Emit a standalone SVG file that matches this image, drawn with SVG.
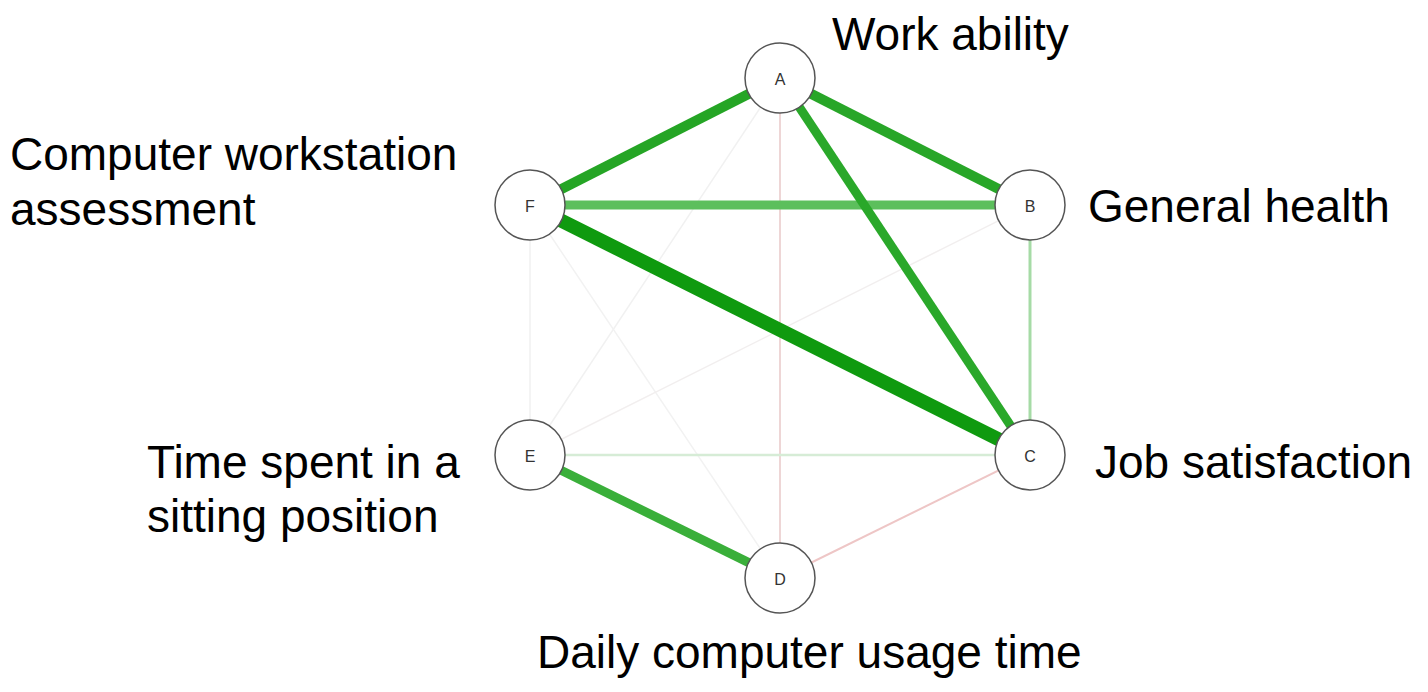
<svg xmlns="http://www.w3.org/2000/svg" width="1428" height="692" viewBox="0 0 1428 692">
<style>
.node circle{fill:#fff;stroke:#555;stroke-width:1.5}
.node text{font-family:"Liberation Sans",Arial,sans-serif;font-size:16px;fill:#333;text-anchor:middle;dominant-baseline:central}
.lbl{font-family:"Liberation Sans",Arial,sans-serif;font-size:46px;fill:#000}
.edges line{stroke-linecap:butt}
</style>
<rect width="1428" height="692" fill="#fff"/>
<g id="connectors" class="edges">
<line id="A-E" x1="780" y1="78" x2="530" y2="455" stroke="#f1f1f1" stroke-width="1.5"/>
<line id="F-E" x1="530" y1="205" x2="530" y2="455" stroke="#f1f1f1" stroke-width="1.5"/>
<line id="F-D" x1="530" y1="205" x2="780" y2="578" stroke="#f2f2f2" stroke-width="1.5"/>
<line id="E-B" x1="530" y1="455" x2="1030" y2="205" stroke="#f2efef" stroke-width="1.5"/>
<line id="A-D" x1="780" y1="78" x2="780" y2="578" stroke="#eed6d6" stroke-width="2"/>
<line id="E-C" x1="530" y1="455" x2="1030" y2="455" stroke="#d6ecd6" stroke-width="2.5"/>
<line id="D-C" x1="780" y1="578" x2="1030" y2="455" stroke="#eec6c6" stroke-width="2"/>
<line id="B-C" x1="1030" y1="205" x2="1030" y2="455" stroke="#a6dba6" stroke-width="3"/>
<line id="F-B" x1="530" y1="205" x2="1030" y2="205" stroke="#5cbf5c" stroke-width="9"/>
<line id="E-D" x1="530" y1="455" x2="780" y2="578" stroke="#3aaf3a" stroke-width="9"/>
<line id="A-B" x1="780" y1="78" x2="1030" y2="205" stroke="#28a628" stroke-width="10"/>
<line id="A-F" x1="780" y1="78" x2="530" y2="205" stroke="#25a525" stroke-width="10"/>
<line id="A-C" x1="780" y1="78" x2="1030" y2="455" stroke="#2aa82a" stroke-width="9"/>
<line id="F-C" x1="530" y1="205" x2="1030" y2="455" stroke="#0f9a0f" stroke-width="14"/>
</g>
<g id="node-A" class="node"><circle cx="780" cy="78" r="35"/><text x="780" y="79">A</text></g>
<g id="node-B" class="node"><circle cx="1030" cy="205" r="35"/><text x="1030" y="206">B</text></g>
<g id="node-C" class="node"><circle cx="1030" cy="455" r="35"/><text x="1030" y="456">C</text></g>
<g id="node-D" class="node"><circle cx="780" cy="578" r="35"/><text x="780" y="579">D</text></g>
<g id="node-E" class="node"><circle cx="530" cy="455" r="35"/><text x="530" y="456">E</text></g>
<g id="node-F" class="node"><circle cx="530" cy="205" r="35"/><text x="530" y="206">F</text></g>
<g id="labels">
<text class="lbl" x="832" y="50">Work ability</text>
<text class="lbl" x="10" y="170">Computer workstation</text>
<text class="lbl" x="10" y="225">assessment</text>
<text class="lbl" x="1088" y="222">General health</text>
<text class="lbl" x="1095" y="478">Job satisfaction</text>
<text class="lbl" x="147" y="478">Time spent in a</text>
<text class="lbl" x="147" y="532">sitting position</text>
<text class="lbl" x="537" y="668">Daily computer usage time</text>
</g>
</svg>
